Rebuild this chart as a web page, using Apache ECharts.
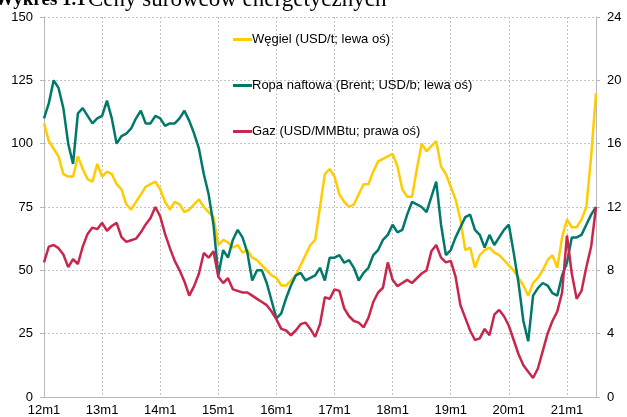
<!DOCTYPE html>
<html>
<head>
<meta charset="utf-8">
<script src="https://cdn.jsdelivr.net/npm/echarts@6/dist/echarts.min.js"></script>
<style>
  html, body { margin: 0; padding: 0; background: #fff; }
  #chart { width: 627px; height: 417px; }
</style>
</head>
<body>
<div id="chart"></div>
<script>
// miesiące 12m1 ... 21m7
const months = [];
for (let y = 12; y <= 21; y++) {
  for (let m = 1; m <= 12; m++) {
    if (y === 21 && m > 7) break;
    months.push(y + 'm' + m);
  }
}

// Węgiel, USD/t (lewa oś)
const coal = [
  108, 101, 98, 95, 88, 87, 87, 95, 90, 86, 85, 92,
  87, 89, 88, 84, 82, 76, 74, 77, 80, 83, 84, 85,
  82, 77, 74, 77, 76, 73, 74, 76, 78, 75, 73, 71,
  60, 62, 61, 59, 60, 57, 58, 55, 54, 52, 50, 48,
  47, 44, 44, 46, 48, 52, 56, 60, 62, 75, 88, 90,
  87, 80, 77, 75, 76, 80, 84, 84, 89, 93, 94, 95,
  96, 91, 82, 79, 79, 90, 100, 97, 99, 101, 91, 88,
  83, 78, 70, 58, 59, 51, 56, 58, 59, 57, 56, 54,
  52, 50, 47, 44, 40, 45, 47, 50, 54, 56, 51, 63,
  70, 67, 67, 70, 75, 95, 120
];

// Ropa naftowa Brent, USD/b (lewa oś)
const brent = [
  110, 116, 125, 122, 114, 100, 92, 112, 114, 111, 108, 110,
  111, 117, 110, 100, 103, 104, 106, 110, 113, 108, 108, 111,
  110, 107, 108, 108, 110, 113, 109, 104, 98, 88, 80, 68,
  48, 58, 55, 62, 66, 63, 57, 46, 50, 50, 45, 38,
  31, 33, 39, 44, 48, 49, 46, 47, 48, 51, 46, 55,
  55, 56, 53, 54, 51, 46, 49, 51, 56, 58, 62, 64,
  68, 65, 66, 72, 77, 76, 75, 73, 79, 85, 68, 56,
  58, 63, 67, 71, 72, 66, 64, 59, 64, 60, 63, 66,
  68, 57, 45, 30, 22, 40, 43, 45, 44, 41, 40, 48,
  53, 63, 63, 64, 68, 72, 75
];

// Gaz, USD/MMBtu (prawa oś)
const gas = [
  8.5, 9.5, 9.6, 9.4, 9.0, 8.2, 8.7, 8.4, 9.5, 10.3, 10.7, 10.6,
  11.0, 10.5, 10.8, 11.0, 10.1, 9.8, 9.9, 10.0, 10.4, 10.9, 11.3, 12.0,
  11.4, 10.3, 9.4, 8.6, 8.0, 7.3, 6.4, 7.0, 7.8, 9.1, 8.8, 9.2,
  7.6, 7.2, 7.5, 6.8, 6.7, 6.6, 6.6, 6.4, 6.2, 6.0, 5.8, 5.4,
  4.9, 4.3, 4.2, 3.9, 4.2, 4.6, 4.7, 4.3, 3.8, 4.6, 6.3, 6.2,
  6.8, 6.7, 5.6, 5.1, 4.8, 4.7, 4.4, 5.0, 6.0, 6.6, 6.9, 8.5,
  7.4, 7.0, 7.2, 7.4, 7.2, 7.5, 7.8, 8.0, 9.2, 9.6, 8.8, 8.5,
  8.6, 7.6, 5.8, 5.0, 4.2, 3.6, 3.7, 4.3, 3.9, 5.2, 5.5, 5.1,
  4.5, 3.6, 2.7, 2.0, 1.6, 1.2, 1.8, 2.9, 4.0, 4.8, 5.4, 6.6,
  10.2, 7.8, 6.2, 6.7, 8.2, 9.5, 12.0
];

const leftTicks = [0, 150, 25];
const rightTicks = [0, 24, 4];

const isJan = (i) => i % 12 === 0;
const gridColor = '#c4c4c4';
const axisColor = '#b8b8b8';
const font = 'Liberation Sans, Arial, sans-serif';

const chart = echarts.init(document.getElementById('chart'));
chart.setOption({
  animation: false,
  backgroundColor: '#fff',
  grid: { left: 44, right: 31, top: 17, bottom: 20 },
  graphic: [
    {
      type: 'text', left: -5, top: -9,
      style: { text: 'Wykres 1.1', font: 'bold 19px "Liberation Serif", serif', fill: '#000' }
    },
    {
      type: 'text', left: 88, top: -12,
      style: { text: 'Ceny surowców energetycznych', font: '23px "Liberation Serif", serif', fill: '#000' }
    }
  ],
  legend: {
    orient: 'vertical',
    left: 233,
    top: 33,
    padding: 0,
    itemGap: 33,
    icon: 'rect',
    itemWidth: 19,
    itemHeight: 3,
    textStyle: { fontSize: 13, fontFamily: font, color: '#000', padding: [0, 0, 0, -5] },
    data: ['Węgiel (USD/t; lewa oś)', 'Ropa naftowa (Brent; USD/b; lewa oś)', 'Gaz (USD/MMBtu; prawa oś)']
  },
  xAxis: {
    type: 'category',
    data: months,
    boundaryGap: false,
    axisLine: { lineStyle: { color: axisColor } },
    axisTick: { show: false },
    axisLabel: { interval: isJan, color: '#000', fontSize: 13, fontFamily: font, margin: 7 },
    splitLine: { show: true, interval: isJan, lineStyle: { color: gridColor, type: [2, 2] } }
  },
  yAxis: [
    {
      type: 'value', position: 'left',
      min: leftTicks[0], max: leftTicks[1], interval: leftTicks[2],
      axisLine: { show: true, lineStyle: { color: axisColor } },
      axisTick: { show: true, length: 4, lineStyle: { color: axisColor } },
      axisLabel: { color: '#000', fontSize: 13, fontFamily: font, margin: 11 },
      splitLine: { show: true, lineStyle: { color: gridColor, type: [2, 2] } }
    },
    {
      type: 'value', position: 'right',
      min: rightTicks[0], max: rightTicks[1], interval: rightTicks[2],
      axisLine: { show: true, lineStyle: { color: axisColor } },
      axisTick: { show: true, length: 4, lineStyle: { color: axisColor } },
      axisLabel: { color: '#000', fontSize: 13, fontFamily: font, margin: 11 },
      splitLine: { show: false }
    }
  ],
  series: [
    {
      name: 'Węgiel (USD/t; lewa oś)', type: 'line', data: coal,
      yAxisIndex: 0, showSymbol: false, symbol: 'none',
      lineStyle: { color: '#FFCC00', width: 2.5 }, itemStyle: { color: '#FFCC00' }
    },
    {
      name: 'Ropa naftowa (Brent; USD/b; lewa oś)', type: 'line', data: brent,
      yAxisIndex: 0, showSymbol: false, symbol: 'none',
      lineStyle: { color: '#00786A', width: 2.5 }, itemStyle: { color: '#00786A' }
    },
    {
      name: 'Gaz (USD/MMBtu; prawa oś)', type: 'line', data: gas,
      yAxisIndex: 1, showSymbol: false, symbol: 'none',
      lineStyle: { color: '#C8274C', width: 2.5 }, itemStyle: { color: '#C8274C' }
    }
  ]
});
</script>
</body>
</html>
